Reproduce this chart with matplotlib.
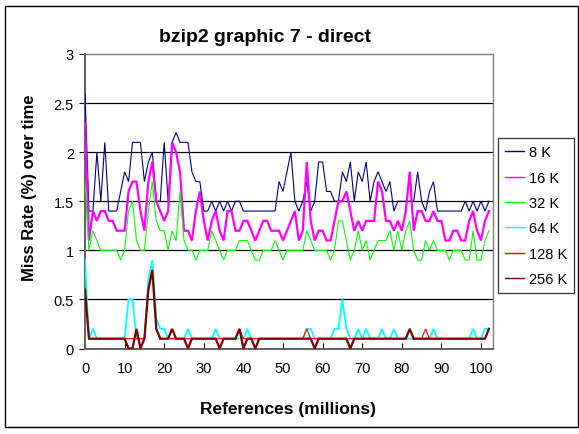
import numpy as np
import matplotlib
matplotlib.use("Agg")
import matplotlib.pyplot as plt
from matplotlib.patches import Rectangle

plt.rcParams["font.family"] = ["Liberation Sans", "DejaVu Sans"]

# Miss rate (%) sampled every million references, per cache size
miss_8k = [2.6, 1.4, 1.4, 2.0, 1.5, 2.1, 1.4, 1.4, 1.4, 1.6,
           1.8, 1.7, 2.1, 2.1, 2.1, 1.7, 1.9, 2.0, 1.5, 1.5,
           2.1, 1.5, 2.1, 2.2, 2.1, 2.1, 2.1, 1.8, 1.7, 1.7,
           1.4, 1.4, 1.5, 1.4, 1.5, 1.4, 1.5, 1.4, 1.5, 1.5,
           1.4, 1.4, 1.4, 1.4, 1.4, 1.4, 1.4, 1.4, 1.4, 1.7,
           1.6, 1.8, 2.0, 1.5, 1.4, 1.5, 1.7, 1.4, 1.5, 1.9,
           1.9, 1.6, 1.6, 1.5, 1.5, 1.8, 1.7, 1.9, 1.5, 1.8,
           1.7, 1.9, 1.5, 1.7, 1.8, 1.7, 1.6, 1.7, 1.4, 1.5,
           1.5, 1.5, 1.5, 1.5, 1.8, 1.5, 1.4, 1.6, 1.7, 1.4,
           1.4, 1.4, 1.4, 1.4, 1.4, 1.4, 1.5, 1.4, 1.5, 1.4,
           1.5, 1.4, 1.5]
miss_16k = [2.3, 1.1, 1.4, 1.3, 1.4, 1.4, 1.3, 1.3, 1.2, 1.2,
            1.2, 1.6, 1.7, 1.7, 1.4, 1.2, 1.7, 1.9, 1.5, 1.4,
            1.3, 1.4, 2.1, 2.0, 1.8, 1.2, 1.2, 1.1, 1.4, 1.6,
            1.3, 1.1, 1.3, 1.4, 1.2, 1.1, 1.4, 1.4, 1.2, 1.2,
            1.3, 1.3, 1.2, 1.1, 1.2, 1.3, 1.3, 1.2, 1.2, 1.2,
            1.1, 1.2, 1.3, 1.4, 1.1, 1.2, 1.9, 1.3, 1.1, 1.2,
            1.2, 1.1, 1.1, 1.3, 1.5, 1.5, 1.6, 1.4, 1.2, 1.3,
            1.2, 1.3, 1.3, 1.3, 1.7, 1.6, 1.3, 1.3, 1.2, 1.3,
            1.2, 1.4, 1.8, 1.2, 1.4, 1.4, 1.3, 1.3, 1.4, 1.3,
            1.3, 1.1, 1.1, 1.2, 1.2, 1.1, 1.1, 1.3, 1.4, 1.2,
            1.1, 1.3, 1.4]
miss_32k = [1.7, 1.0, 1.2, 1.1, 1.0, 1.0, 1.0, 1.0, 1.0, 0.9,
            1.0, 1.4, 1.5, 1.1, 1.0, 1.0, 1.4, 1.7, 1.3, 1.2,
            1.2, 1.0, 1.2, 1.1, 1.6, 1.1, 1.0, 1.0, 0.9, 1.0,
            1.0, 1.0, 1.2, 1.1, 1.0, 0.9, 1.0, 1.0, 1.0, 1.1,
            1.1, 1.1, 1.0, 0.9, 0.9, 1.0, 1.0, 1.0, 1.1, 1.0,
            0.9, 1.0, 1.0, 1.0, 1.0, 1.0, 1.2, 1.1, 1.0, 1.0,
            1.0, 1.0, 0.9, 1.0, 1.3, 1.3, 1.1, 0.9, 1.0, 1.2,
            1.0, 1.1, 0.9, 1.0, 1.1, 1.1, 1.1, 1.2, 1.0, 1.2,
            1.0, 1.2, 1.3, 1.0, 0.9, 0.9, 1.1, 1.0, 1.1, 1.0,
            1.0, 1.0, 0.9, 1.0, 1.0, 1.0, 0.9, 0.9, 1.2, 0.9,
            0.9, 1.1, 1.2]
miss_64k = [0.9, 0.1, 0.2, 0.1, 0.1, 0.1, 0.1, 0.1, 0.1, 0.1,
            0.1, 0.5, 0.5, 0.1, 0.1, 0.1, 0.7, 0.9, 0.3, 0.2,
            0.2, 0.1, 0.1, 0.1, 0.1, 0.1, 0.2, 0.1, 0.1, 0.1,
            0.1, 0.1, 0.1, 0.2, 0.1, 0.1, 0.1, 0.1, 0.1, 0.1,
            0.1, 0.2, 0.1, 0.1, 0.1, 0.1, 0.1, 0.1, 0.1, 0.1,
            0.1, 0.1, 0.1, 0.1, 0.1, 0.1, 0.2, 0.2, 0.1, 0.1,
            0.1, 0.1, 0.1, 0.2, 0.2, 0.5, 0.2, 0.1, 0.1, 0.2,
            0.1, 0.2, 0.1, 0.1, 0.1, 0.2, 0.1, 0.1, 0.2, 0.1,
            0.1, 0.1, 0.1, 0.1, 0.1, 0.1, 0.1, 0.1, 0.2, 0.1,
            0.1, 0.1, 0.1, 0.1, 0.1, 0.1, 0.1, 0.1, 0.2, 0.1,
            0.1, 0.2, 0.2]
miss_128k = [0.6, 0.1, 0.1, 0.1, 0.1, 0.1, 0.1, 0.1, 0.1, 0.1,
             0.1, 0.1, 0.1, 0.1, 0.1, 0.1, 0.6, 0.8, 0.2, 0.1,
             0.1, 0.1, 0.1, 0.1, 0.1, 0.1, 0.1, 0.1, 0.1, 0.1,
             0.1, 0.1, 0.1, 0.1, 0.1, 0.1, 0.1, 0.1, 0.1, 0.2,
             0.1, 0.1, 0.1, 0.1, 0.1, 0.1, 0.1, 0.1, 0.1, 0.1,
             0.1, 0.1, 0.1, 0.1, 0.1, 0.1, 0.2, 0.1, 0.1, 0.1,
             0.1, 0.1, 0.1, 0.1, 0.1, 0.1, 0.1, 0.1, 0.1, 0.1,
             0.1, 0.1, 0.1, 0.1, 0.1, 0.1, 0.1, 0.1, 0.1, 0.1,
             0.1, 0.1, 0.2, 0.1, 0.1, 0.1, 0.2, 0.1, 0.1, 0.1,
             0.1, 0.1, 0.1, 0.1, 0.1, 0.1, 0.1, 0.1, 0.1, 0.1,
             0.1, 0.1, 0.2]
miss_256k = [0.6, 0.1, 0.1, 0.1, 0.1, 0.1, 0.1, 0.1, 0.1, 0.1,
             0.1, 0.0, 0.0, 0.2, 0.0, 0.1, 0.6, 0.8, 0.2, 0.1,
             0.1, 0.1, 0.2, 0.1, 0.1, 0.1, 0.0, 0.1, 0.1, 0.1,
             0.1, 0.1, 0.1, 0.1, 0.0, 0.1, 0.1, 0.1, 0.1, 0.2,
             0.0, 0.1, 0.1, 0.0, 0.1, 0.1, 0.1, 0.1, 0.1, 0.1,
             0.1, 0.1, 0.1, 0.1, 0.1, 0.1, 0.1, 0.1, 0.0, 0.1,
             0.1, 0.1, 0.1, 0.1, 0.1, 0.1, 0.1, 0.0, 0.1, 0.1,
             0.1, 0.1, 0.1, 0.1, 0.1, 0.1, 0.1, 0.1, 0.1, 0.1,
             0.1, 0.1, 0.2, 0.1, 0.1, 0.1, 0.1, 0.1, 0.1, 0.1,
             0.1, 0.1, 0.1, 0.1, 0.1, 0.1, 0.1, 0.1, 0.1, 0.1,
             0.1, 0.1, 0.2]

series_labels = ["8 K", "16 K", "32 K", "64 K", "128 K", "256 K"]
series_values = [miss_8k, miss_16k, miss_32k, miss_64k, miss_128k, miss_256k]
series_colors = ["#000080", "#FF00FF", "#00FF00", "#00FFFF", "#FF0000", "#800000"]
series_widths = [0.8, 1.6, 0.8, 1.3, 0.8, 1.6]

y_ticks = [0, 0.5, 1, 1.5, 2, 2.5, 3]
y_tick_labels = ["0", "0.5", "1", "1.5", "2", "2.5", "3"]
x_ticks = [0, 10, 20, 30, 40, 50, 60, 70, 80, 90, 100]

W, H = 579, 435
fig = plt.figure(figsize=(W / 100, H / 100), dpi=100)
fig.patch.set_facecolor("white")

# outer chart frame
fig.patches.append(Rectangle((5 / W, 1 - 428 / H), 573 / W, 421 / H,
                             transform=fig.transFigure, fill=False,
                             edgecolor="black", linewidth=1.0))

ax = fig.add_axes([85 / W, 1 - 349.5 / H, (492.5 - 85) / W, (349.5 - 55) / H])
ax.set_xlim(0, 102.9)
ax.set_ylim(0, 3)

for y in y_ticks[1:-1]:
    ax.axhline(y, color="black", linewidth=0.9, zorder=1)

refs = np.arange(len(miss_8k))
handles = []
for vals, lab, col, lw in zip(series_values, series_labels, series_colors, series_widths):
    h, = ax.plot(refs, vals, color=col, linewidth=lw, label=lab, zorder=3,
                 solid_joinstyle="miter")
    handles.append(h)

for side in ["top", "right"]:
    ax.spines[side].set_color("#808080")
    ax.spines[side].set_linewidth(1.0)
for side in ["left", "bottom"]:
    ax.spines[side].set_color("#606060")
    ax.spines[side].set_linewidth(1.4)

ax.set_yticks(y_ticks)
ax.set_yticklabels(y_tick_labels)
ax.set_xticks(x_ticks)
ax.tick_params(axis="y", direction="out", length=4, width=0.8, pad=4,
               labelsize=10.5, colors="black")
ax.tick_params(axis="x", direction="in", length=4, width=0.8, pad=9,
               labelsize=10.5, colors="black")

fig.text(265 / W, 1 - 38 / H, "bzip2 graphic 7 - direct", ha="center", va="center",
         fontsize=14, fontweight="bold")
fig.text(288 / W, 1 - 410 / H, "References (millions)", ha="center", va="center",
         fontsize=12.5, fontweight="bold")
fig.text(30 / W, 1 - 188 / H, "Miss Rate (%) over time", ha="center", va="center",
         rotation=90, fontsize=12, fontweight="bold")

leg = fig.legend(handles=handles, labels=series_labels, loc="upper left",
                 bbox_to_anchor=(498 / W, 1 - 139 / H), fontsize=10.5,
                 frameon=True, fancybox=False, edgecolor="black",
                 handlelength=1.3, handletextpad=0.3, labelspacing=0.78,
                 borderpad=0.5, borderaxespad=0)
leg.get_frame().set_linewidth(0.9)
for lh in leg.get_lines():
    lh.set_linewidth(1.0)

fig.savefig("out.png", dpi=100, facecolor="white")
